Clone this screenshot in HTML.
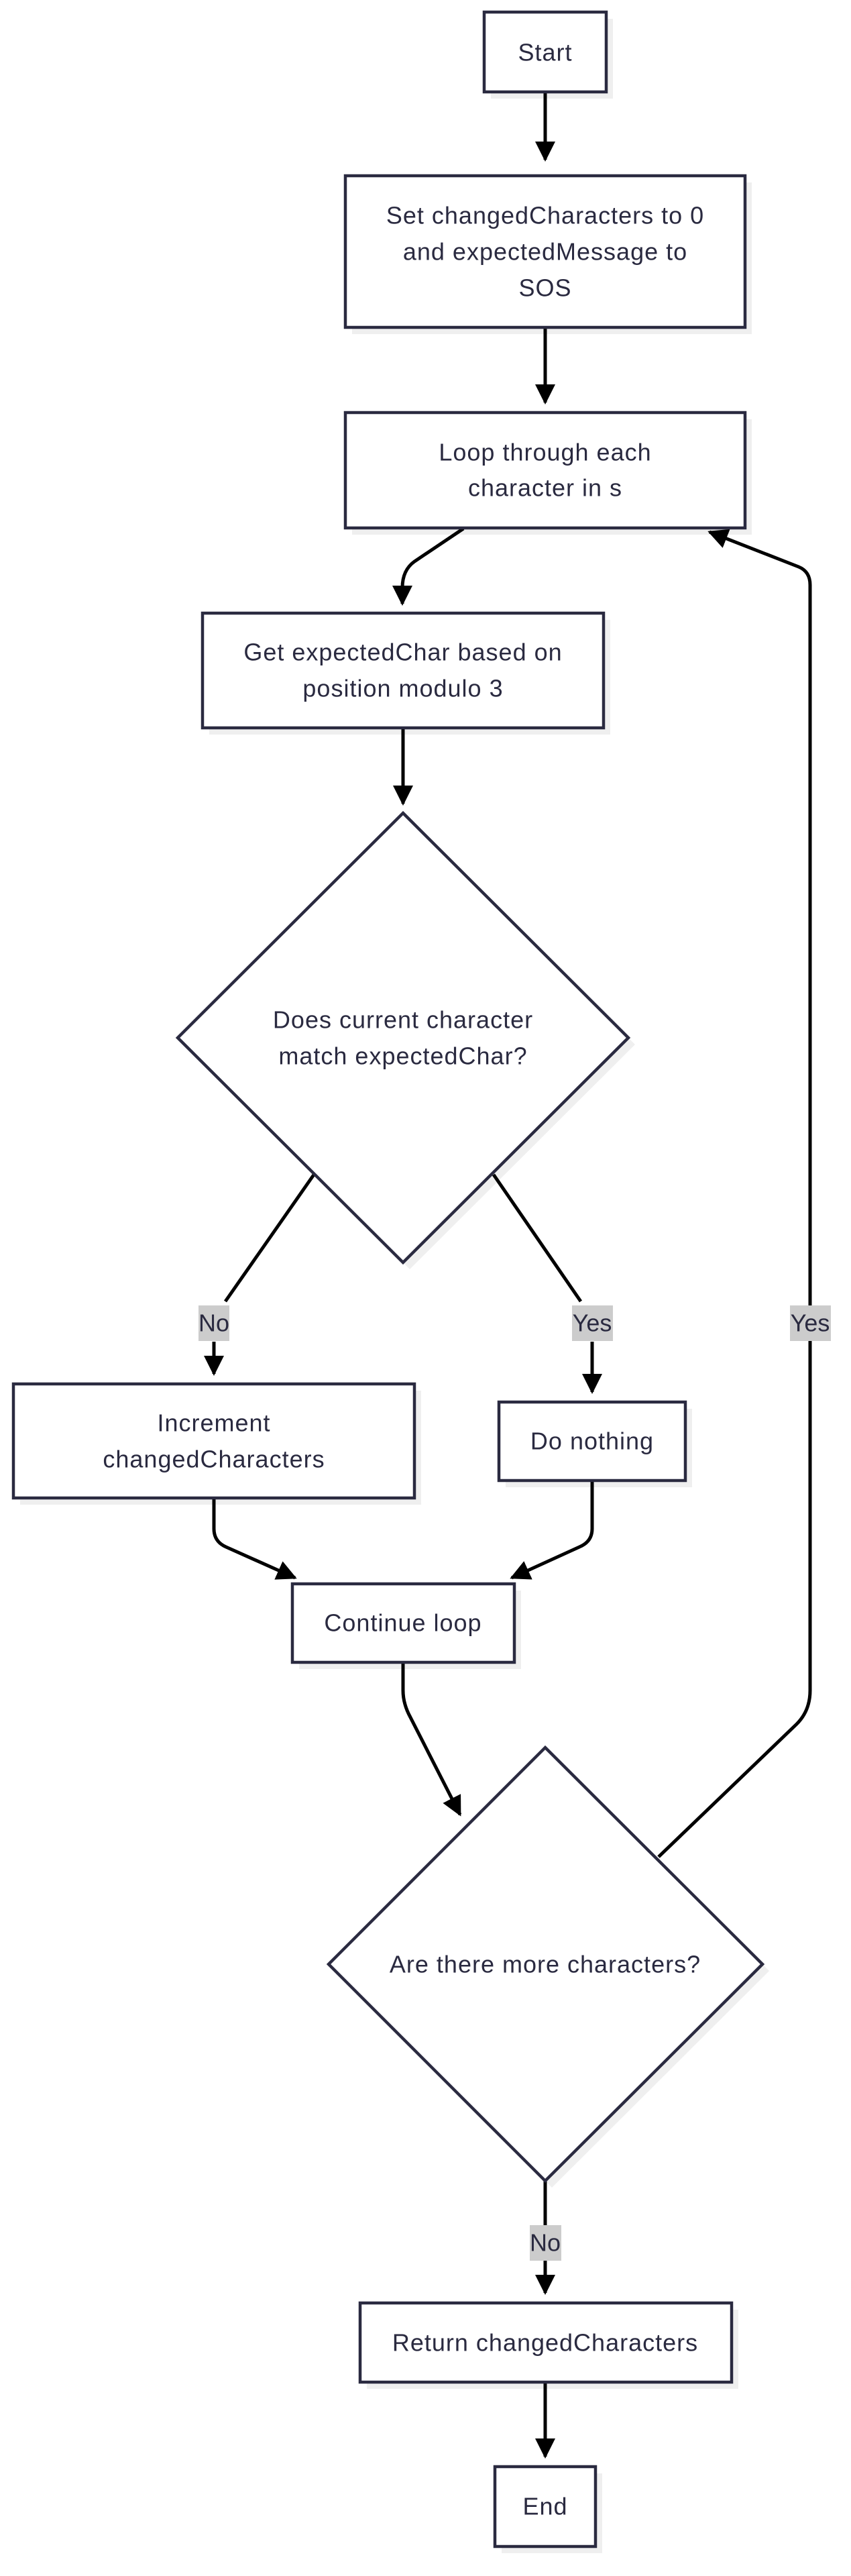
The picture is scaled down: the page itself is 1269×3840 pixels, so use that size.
<!DOCTYPE html>
<html><head><meta charset="utf-8"><style>
html,body{margin:0;padding:0;background:#fff;}
svg{display:block;}
text{font-family:"Liberation Sans",sans-serif;fill:#2a2a40;font-size:36px;letter-spacing:1px;}
.n{fill:#fff;stroke:#2a2a40;stroke-width:4.5;}
.sh{fill:#efefef;}
.e{fill:none;stroke:#000;stroke-width:5;}
.lb{fill:#cccccc;}
</style></head><body>
<svg width="1269" height="3840" viewBox="0 0 1269 3840" xmlns="http://www.w3.org/2000/svg">
<defs>
<marker id="a" viewBox="0 0 10 10" refX="9" refY="5" markerWidth="6" markerHeight="6" orient="auto" markerUnits="strokeWidth">
<path d="M0,0 L10,5 L0,10 z" fill="#000"/></marker>
</defs>

<!-- shadows -->
<rect class="sh" x="732" y="28" width="182" height="119"/>
<rect class="sh" x="525" y="272" width="596" height="226"/>
<rect class="sh" x="525" y="625" width="596" height="172"/>
<rect class="sh" x="312" y="924" width="598" height="171"/>
<polygon class="sh" points="611,1222 947,1557 611,1892 275,1557"/>
<rect class="sh" x="30" y="2073" width="598" height="170"/>
<rect class="sh" x="754" y="2100" width="278" height="117"/>
<rect class="sh" x="446" y="2371" width="331" height="117"/>
<polygon class="sh" points="823,2615 1147,2938 823,3261 500,2938"/>
<rect class="sh" x="547" y="3443" width="554" height="118"/>
<rect class="sh" x="748" y="3687" width="150" height="119"/>

<!-- edges -->
<path class="e" d="M813,137 L813,238" marker-end="url(#a)"/>
<path class="e" d="M813,488 L813,600" marker-end="url(#a)"/>
<path class="e" d="M691,788 L618,837 Q600,850 600,876 L600,900" marker-end="url(#a)"/>
<path class="e" d="M601,1085 L601,1198" marker-end="url(#a)"/>
<path class="e" d="M468,1751 L336,1940"/>
<path class="e" d="M319,2000 L319,2048" marker-end="url(#a)"/>
<path class="e" d="M736,1751 L866,1940"/>
<path class="e" d="M883,2000 L883,2075" marker-end="url(#a)"/>
<path class="e" d="M319,2233 L319,2279 Q319,2298 337,2306 L440,2352" marker-end="url(#a)"/>
<path class="e" d="M883,2207 L883,2279 Q883,2298 864,2306 L763,2352" marker-end="url(#a)"/>
<path class="e" d="M601,2478 L601,2520 Q601,2540 612,2560 L686,2705" marker-end="url(#a)"/>
<path class="e" d="M982,2768 L1188,2570 Q1208,2550 1208,2520 L1208,872 Q1208,852 1191,845 L1058,793" marker-end="url(#a)"/>
<path class="e" d="M813,3251 L813,3418" marker-end="url(#a)"/>
<path class="e" d="M813,3551 L813,3662" marker-end="url(#a)"/>

<!-- nodes -->
<rect class="n" x="722" y="18" width="182" height="119"/>
<text x="813" y="78" text-anchor="middle" dominant-baseline="central">Start</text>

<rect class="n" x="515" y="262" width="596" height="226"/>
<text x="813" y="321" text-anchor="middle" dominant-baseline="central">Set changedCharacters to 0</text>
<text x="813" y="375" text-anchor="middle" dominant-baseline="central">and expectedMessage to</text>
<text x="813" y="429" text-anchor="middle" dominant-baseline="central">SOS</text>

<rect class="n" x="515" y="615" width="596" height="172"/>
<text x="813" y="674" text-anchor="middle" dominant-baseline="central">Loop through each</text>
<text x="813" y="727" text-anchor="middle" dominant-baseline="central">character in s</text>

<rect class="n" x="302" y="914" width="598" height="171"/>
<text x="601" y="972" text-anchor="middle" dominant-baseline="central">Get expectedChar based on</text>
<text x="601" y="1026" text-anchor="middle" dominant-baseline="central">position modulo 3</text>

<polygon class="n" points="601,1212 937,1547 601,1882 265,1547"/>
<text x="601" y="1520" text-anchor="middle" dominant-baseline="central">Does current character</text>
<text x="601" y="1574" text-anchor="middle" dominant-baseline="central">match expectedChar?</text>

<rect class="n" x="20" y="2063" width="598" height="170"/>
<text x="319" y="2121" text-anchor="middle" dominant-baseline="central">Increment</text>
<text x="319" y="2175" text-anchor="middle" dominant-baseline="central">changedCharacters</text>

<rect class="n" x="744" y="2090" width="278" height="117"/>
<text x="883" y="2148" text-anchor="middle" dominant-baseline="central">Do nothing</text>

<rect class="n" x="436" y="2361" width="331" height="117"/>
<text x="601" y="2419" text-anchor="middle" dominant-baseline="central">Continue loop</text>

<polygon class="n" points="813,2605 1137,2928 813,3251 490,2928"/>
<text x="813" y="2928" text-anchor="middle" dominant-baseline="central">Are there more characters?</text>

<rect class="n" x="537" y="3433" width="554" height="118"/>
<text x="813" y="3492" text-anchor="middle" dominant-baseline="central">Return changedCharacters</text>

<rect class="n" x="738" y="3677" width="150" height="119"/>
<text x="813" y="3736" text-anchor="middle" dominant-baseline="central">End</text>

<!-- labels -->
<rect class="lb" x="296" y="1946" width="46" height="53"/>
<text x="319" y="1972" text-anchor="middle" dominant-baseline="central" style="letter-spacing:0">No</text>
<rect class="lb" x="853" y="1946" width="61" height="53"/>
<text x="883" y="1972" text-anchor="middle" dominant-baseline="central" style="letter-spacing:0">Yes</text>
<rect class="lb" x="1178" y="1946" width="61" height="53"/>
<text x="1208" y="1972" text-anchor="middle" dominant-baseline="central" style="letter-spacing:0">Yes</text>
<rect class="lb" x="790" y="3317" width="47" height="53"/>
<text x="813" y="3343" text-anchor="middle" dominant-baseline="central" style="letter-spacing:0">No</text>
</svg>
</body></html>
